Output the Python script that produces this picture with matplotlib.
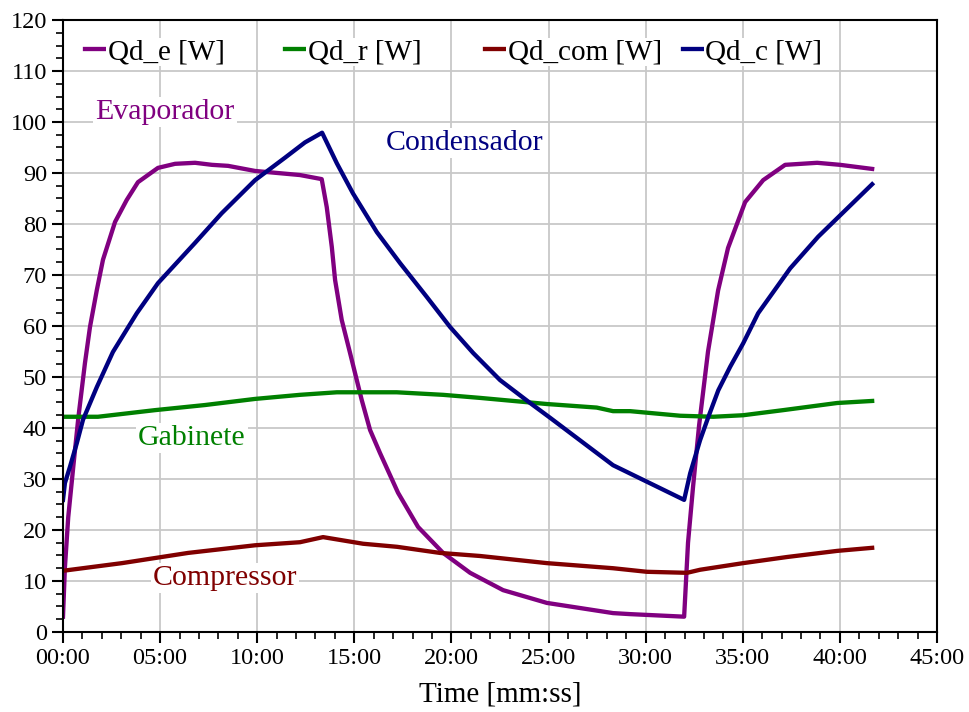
import matplotlib
matplotlib.use("Agg")
import matplotlib.pyplot as plt
from matplotlib.ticker import MultipleLocator, FuncFormatter

plt.rcParams["font.family"] = ["Liberation Serif", "DejaVu Serif"]

# heat rates over one on/off cycle, time in minutes
t_e = [0.0, 0.10, 0.27, 0.53, 0.79, 1.13, 1.39, 1.74, 2.06, 2.68, 3.28, 3.86, 4.89,
       5.77, 6.80, 7.67, 8.50, 9.89, 12.20, 13.32, 13.58, 13.84, 14.01, 14.35, 14.78,
       15.38, 15.81, 16.32, 17.25, 18.28, 19.57, 20.96, 22.66, 24.91, 28.32, 29.20,
       31.98, 32.18, 32.44, 32.75, 33.21, 33.73, 34.24, 35.12, 36.05, 37.18, 38.83,
       40.01, 41.66]
qd_e = [3.0, 12.7, 22.5, 32.4, 42.0, 52.7, 59.8, 67.0, 73.0, 80.4, 84.7, 88.2, 91.0,
        91.8, 92.0, 91.6, 91.4, 90.4, 89.6, 88.8, 83.3, 75.5, 69.0, 61.2, 54.7,
        45.5, 39.6, 35.1, 27.3, 20.6, 15.5, 11.6, 8.2, 5.7, 3.7, 3.5,
        3.0, 17.5, 28.5, 40.5, 55.0, 67.0, 75.3, 84.3, 88.6, 91.6, 92.0,
        91.6, 90.8]

t_r = [0.0, 1.80, 4.74, 7.31, 9.89, 12.20, 14.10, 17.18, 19.57, 21.47, 24.91, 27.48,
       28.32, 29.20, 31.78, 33.48, 35.02, 37.08, 39.86, 41.66]
qd_r = [42.2, 42.2, 43.5, 44.5, 45.7, 46.5, 47.0, 47.0, 46.5, 45.9, 44.7, 44.0,
        43.3, 43.3, 42.4, 42.2, 42.5, 43.5, 44.9, 45.3]

t_com = [0.0, 3.04, 6.44, 9.89, 12.20, 13.39, 15.45, 17.20, 19.41, 21.47, 24.91,
         28.32, 30.06, 32.13, 32.80, 35.02, 37.28, 39.86, 41.66]
qd_com = [12.0, 13.5, 15.5, 17.0, 17.6, 18.6, 17.3, 16.7, 15.5, 14.9, 13.5,
          12.5, 11.8, 11.6, 12.2, 13.5, 14.7, 15.9, 16.5]

t_c = [0.0, 0.10, 0.36, 0.71, 1.03, 1.74, 2.57, 3.80, 4.89, 6.80, 8.17, 9.89, 11.43,
       12.46, 13.34, 14.10, 14.93, 16.16, 17.36, 18.73, 19.93, 21.12, 22.50, 24.05,
       25.08, 28.32, 31.98, 32.29, 32.80, 33.23, 33.74, 34.35, 35.02, 35.79, 37.44,
       38.88, 41.66]
qd_c = [25.9, 29.2, 32.4, 37.0, 41.6, 48.0, 54.9, 62.5, 68.4, 76.3, 82.1, 88.6, 93.0,
        96.0, 97.9, 91.9, 86.0, 78.4, 72.3, 65.7, 59.8, 54.7, 49.4, 44.9,
        42.0, 32.7, 25.9, 31.1, 37.6, 42.2, 47.4, 52.0, 56.6, 62.5, 71.3,
        77.5, 87.8]

purple = "#800080"
green = "#008000"
darkred = "#800000"
navy = "#000080"

fig = plt.figure(figsize=(9.69, 7.12), dpi=100)
ax = fig.add_axes([0.065, 0.1124, 0.902, 0.8595])

lw = 3.1
l_e, = ax.plot(t_e, qd_e, color=purple, lw=lw, label="Qd_e [W]", solid_joinstyle="round")
l_r, = ax.plot(t_r, qd_r, color=green, lw=lw, label="Qd_r [W]", solid_joinstyle="round")
l_com, = ax.plot(t_com, qd_com, color=darkred, lw=lw, label="Qd_com [W]", solid_joinstyle="round")
l_c, = ax.plot(t_c, qd_c, color=navy, lw=lw, label="Qd_c [W]", solid_joinstyle="round")

ax.set_xlim(0, 45)
ax.set_ylim(0, 120)
ax.xaxis.set_major_locator(MultipleLocator(5))
ax.xaxis.set_minor_locator(MultipleLocator(1))
ax.yaxis.set_major_locator(MultipleLocator(10))
ax.yaxis.set_minor_locator(MultipleLocator(2.5))
ax.xaxis.set_major_formatter(FuncFormatter(lambda v, p: f"{int(round(v)):02d}:00"))
ax.tick_params(which="major", direction="out", length=8, width=1.5, labelsize=17.5,
               colors="black")
ax.tick_params(which="minor", direction="out", length=5, width=1.2)
ax.grid(True, which="major", color="#c8c8c8", lw=1.3)
ax.set_axisbelow(True)
for s in ax.spines.values():
    s.set_linewidth(1.5)

ax.set_xlabel("Time [mm:ss]", fontsize=21, labelpad=9)

box = dict(facecolor="white", edgecolor="none", pad=1.5)
ax.text(5.25, 101.9, "Evaporador", color=purple, fontsize=21.5, ha="center", va="center", bbox=box)
ax.text(20.65, 95.9, "Condensador", color=navy, fontsize=21.5, ha="center", va="center", bbox=box)
ax.text(6.64, 38.0, "Gabinete", color=green, fontsize=21.5, ha="center", va="center", bbox=box)
ax.text(8.34, 10.6, "Compressor", color=darkred, fontsize=21.5, ha="center", va="center", bbox=box)

# one legend entry per slot, evenly spaced across the top
slots = [0.025, 0.254, 0.483, 0.709]
for i, (line, x0) in enumerate(zip([l_e, l_r, l_com, l_c], slots)):
    leg = ax.legend([line], [line.get_label()], loc="center left", frameon=False,
                    fontsize=21, handlelength=0.7, handletextpad=0.08,
                    borderpad=0, borderaxespad=0, bbox_to_anchor=(x0, 0.948))
    for txt in leg.get_texts():
        txt.set_bbox(dict(facecolor="white", edgecolor="none", pad=1))
    if i < 3:
        ax.add_artist(leg)

fig.savefig("out.png", dpi=100)
